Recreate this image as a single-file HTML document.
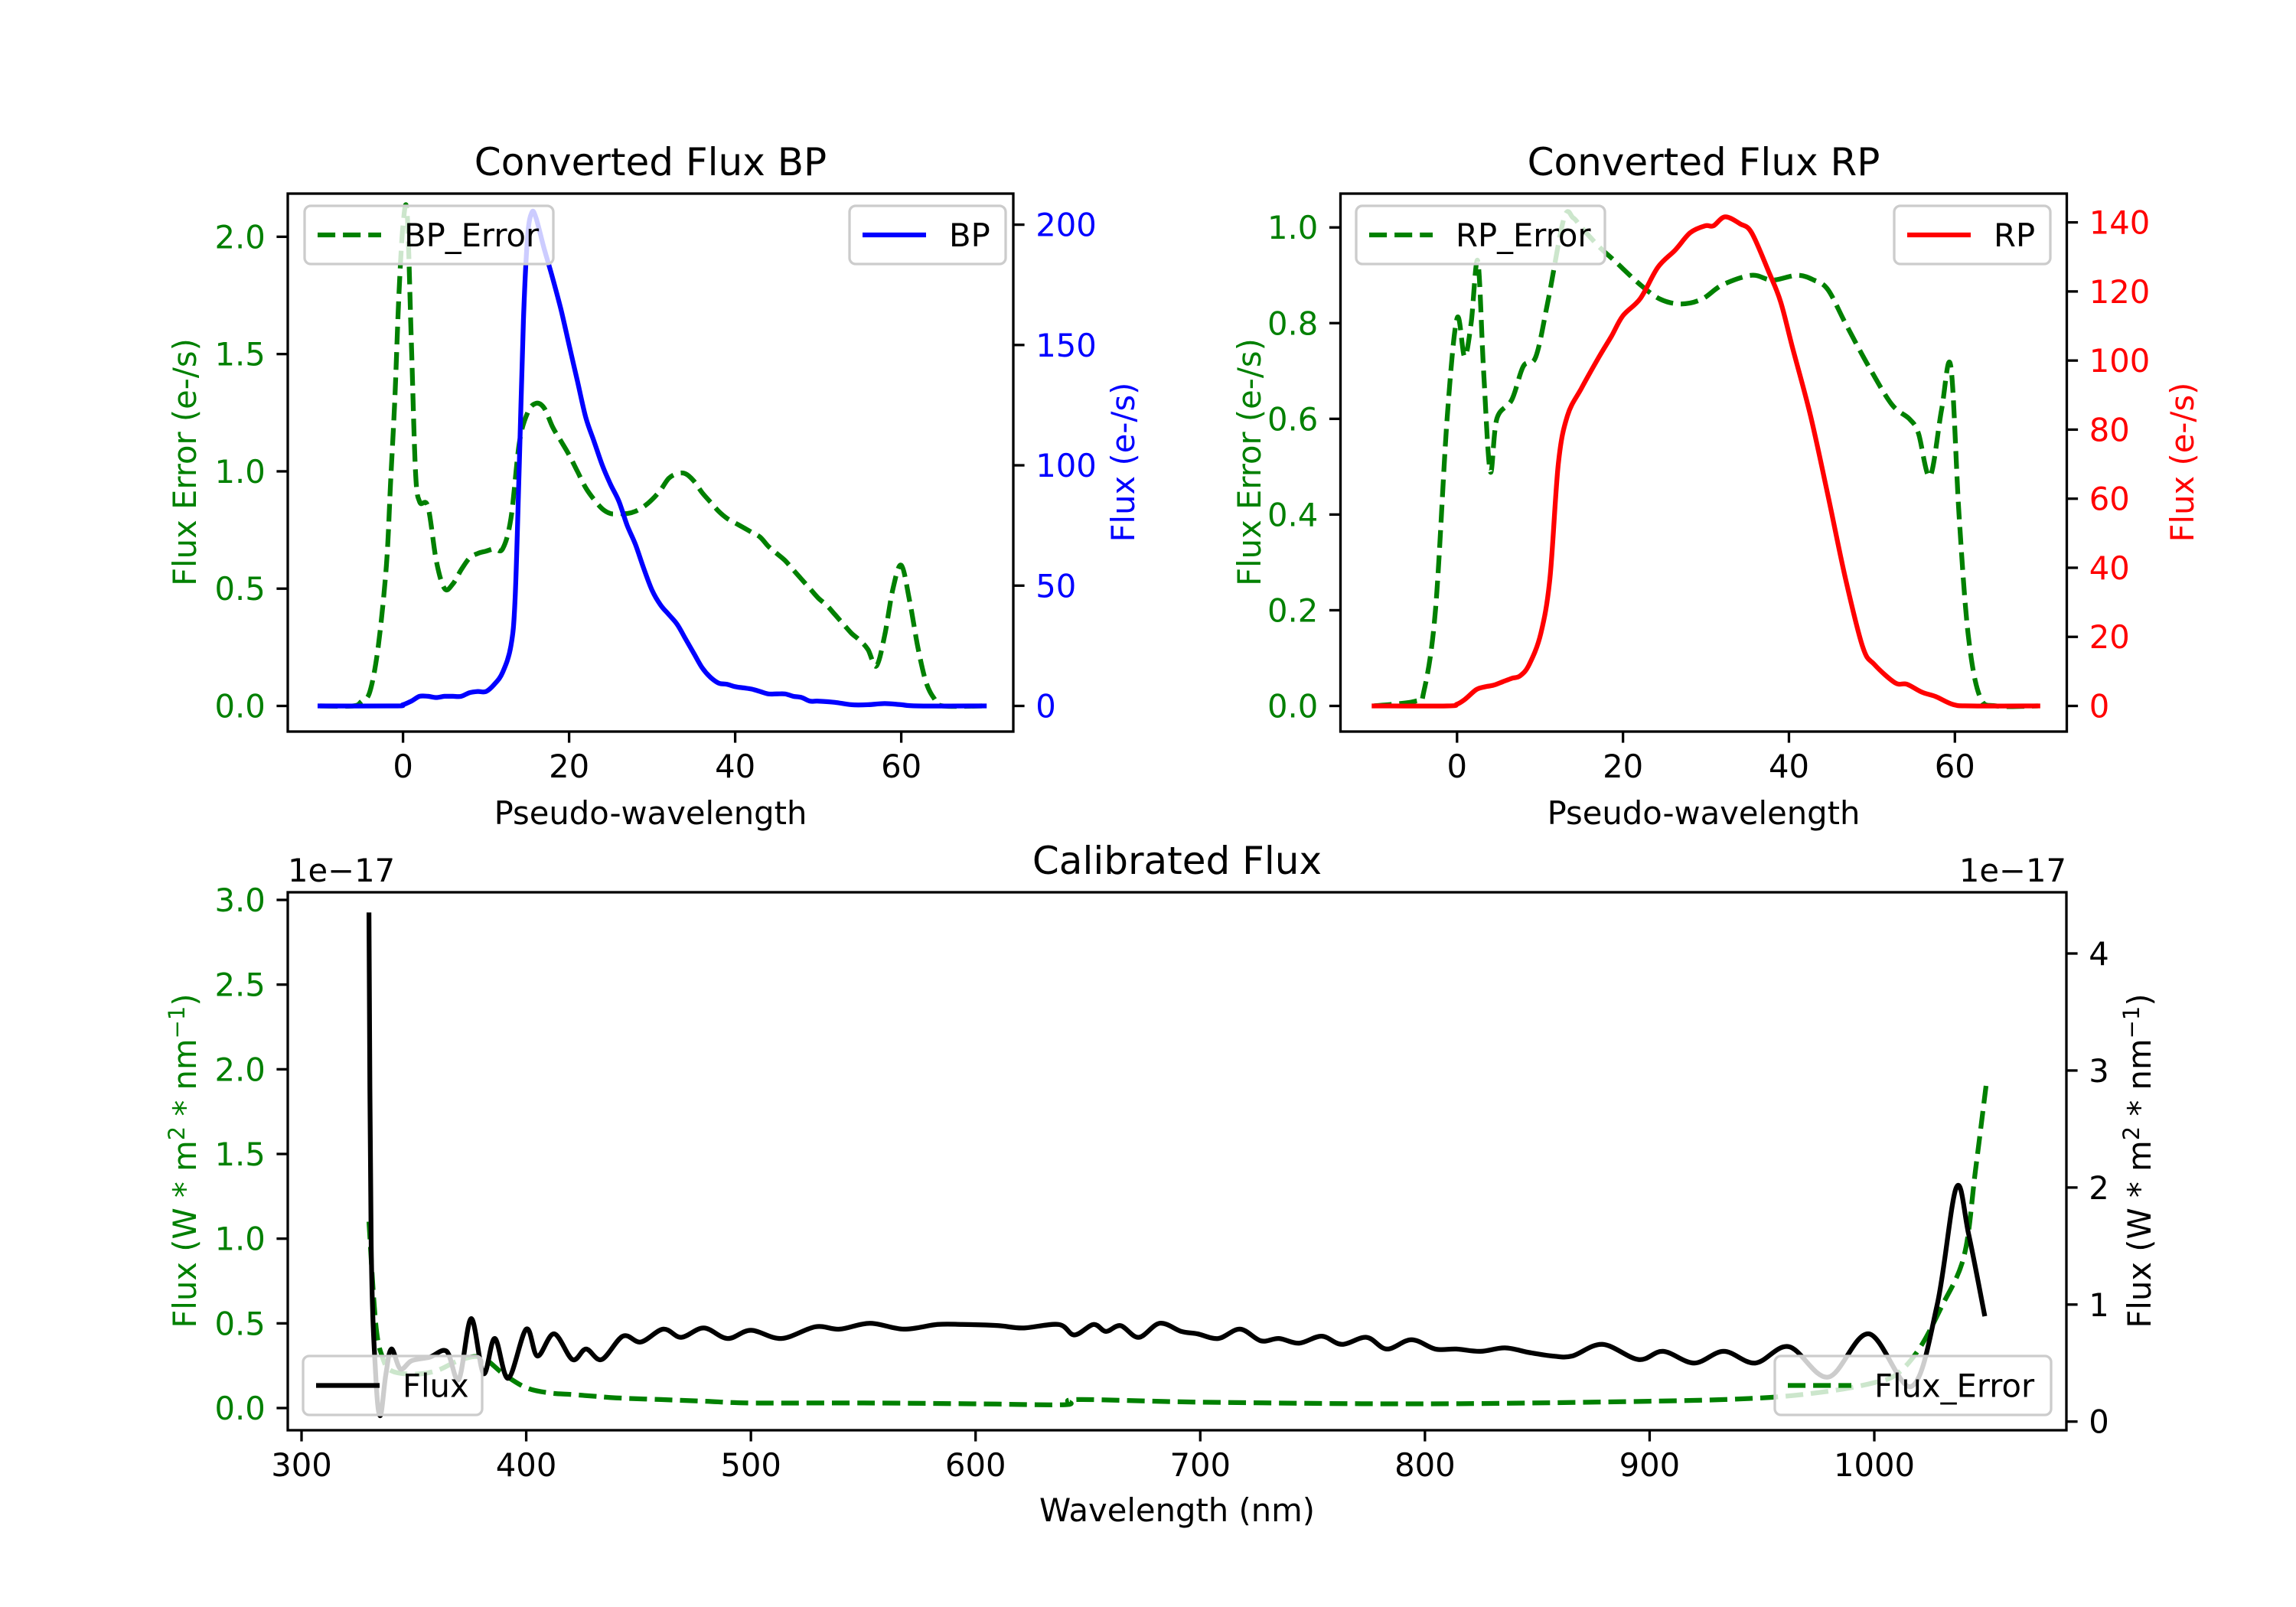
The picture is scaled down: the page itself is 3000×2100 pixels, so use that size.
<!DOCTYPE html>
<html><head><meta charset="utf-8">
<style>
html,body{margin:0;padding:0;background:#fff;}
svg{display:block;font-family:"DejaVu Sans","Liberation Sans",sans-serif;}
</style></head>
<body>
<svg id="fig" width="3000" height="2100" viewBox="0 0 3000 2100" xmlns="http://www.w3.org/2000/svg">
<rect width="3000" height="2100" fill="#fff"/>
</svg>
<script>
// ---- BP panel data ----
const bpErrX = [-10,-6,-5,-4,-3,-2,-1.5,-1,-0.5,0,0.5,1,1.5,2,3,4,5,6,7,8,9,10,11,12,13,14,15,16,17,18,19,20,21,22,23,24,25,26,27,28,29,30,31,32,33,34,35,36,37,38,39,40,41,42,43,44,45,46,47,48,49,50,51,52,53,54,55,56,57,58,59,60,61,62,63,64,65,70];
const bpErrY = [0,0,0.02,0.06,0.25,0.6,0.95,1.3,1.75,2.05,2.1,1.55,1.0,0.87,0.85,0.62,0.5,0.52,0.58,0.63,0.65,0.66,0.67,0.67,0.8,1.12,1.25,1.29,1.27,1.19,1.13,1.07,1.0,0.93,0.88,0.84,0.82,0.82,0.82,0.83,0.85,0.88,0.92,0.97,0.99,0.99,0.96,0.91,0.87,0.83,0.8,0.78,0.76,0.74,0.72,0.68,0.65,0.62,0.58,0.54,0.5,0.46,0.43,0.39,0.35,0.31,0.28,0.24,0.17,0.3,0.5,0.6,0.45,0.25,0.1,0.03,0,0];
const bpX = [-10,-1,0,1,2,3,4,5,6,7,8,9,10,11,12,13,13.5,14,14.5,15,15.5,16,17,18,19,20,21,22,23,24,25,26,27,28,29,30,31,32,33,34,35,36,37,38,39,40,41,42,43,44,45,46,47,48,49,50,52,54,56,58,60,62,70];
const bpY = [0,0,0.5,2,4,4,3.5,4,4,4,5.5,6,6,9,14,25,45,100,160,195,205,203,190,178,165,150,135,120,110,100,92,85,75,67,57,48,42,38,34,28,22,16,12,9.5,9,8,7.5,7,6,5,5,5,4,3.5,2,2,1.5,0.5,0.5,1,0.5,0,0];
const bpXTicks = [0,20,40,60];
const bpLTicks = ["0.0","0.5","1.0","1.5","2.0"];
const bpRTicks = [0,50,100,150,200];
// ---- RP panel data ----
const rpErrX = [-10,-5,-4,-2.6,-1.2,0,0.9,1.7,2.5,3.2,4.0,4.8,6.6,8.0,9.5,11,12.9,14,15,17.1,19,22.1,24.5,27,29.5,32,35.5,38,41,43,44.7,46.8,49.6,52.4,54.5,55.6,57,58.4,59.5,60.5,61.6,63,65,70];
const rpErrY = [0,0.01,0.03,0.2,0.6,0.81,0.73,0.8,0.93,0.7,0.49,0.6,0.64,0.71,0.73,0.85,1.02,1.02,1.0,0.96,0.93,0.88,0.85,0.84,0.85,0.88,0.9,0.89,0.9,0.89,0.87,0.8,0.71,0.63,0.6,0.57,0.48,0.62,0.71,0.4,0.15,0.02,0,0];
const rpX = [-10,-1.2,0,1,2.3,3.3,4.4,5.5,6.6,7.6,8.7,10.1,11.2,12.2,13.3,15,17.1,18.6,20,22.1,24.2,26.3,28.1,29.9,30.9,32.3,34.1,35.5,37.6,39,40.4,42.6,44.7,46.8,48.9,50.3,52.8,54.2,56,57.7,59.8,62,70];
const rpY = [0,0,0.5,2,4.7,5.5,6,7,8,8.7,12,21,37,70,84,92,101,107,113,118,127,132,137,139,139,141.6,139.6,137,125.5,117,104,84,61,37,17,12,6.7,6.3,4,2.7,0.4,0,0];
const rpXTicks = [0,20,40,60];
const rpLTicks = ["0.0","0.2","0.4","0.6","0.8","1.0"];
const rpRTicks = [0,20,40,60,80,100,120,140];
// ---- Calibrated flux data (units 1e-17) ----
const calX = [330,331,333,335,337.5,340,344,349,357,364.6,370,375.5,381,386,392,400,405,412.4,420.6,426.6,433.6,443,451,461,469,479,489.6,500,513.5,528.7,539.5,553,568,583,594,610,621,637,644,652.5,658,664.5,672.6,682,691.6,698.7,708,717.7,727,735,744,754,763,774,783,794,804.6,814,824.7,835.6,846.5,857,865.5,879,895,906,919.8,933,947,962,979.5,997.5,1016.5,1028,1036.5,1042,1049];
const calFlux = [4.33,1.5,0.4,0.05,0.4,0.62,0.45,0.52,0.55,0.6,0.36,0.88,0.41,0.71,0.37,0.79,0.56,0.75,0.53,0.62,0.53,0.73,0.68,0.79,0.72,0.8,0.71,0.78,0.71,0.81,0.79,0.84,0.79,0.83,0.83,0.82,0.8,0.83,0.74,0.83,0.77,0.82,0.72,0.84,0.77,0.75,0.71,0.79,0.69,0.71,0.67,0.73,0.66,0.72,0.62,0.7,0.62,0.62,0.6,0.63,0.59,0.56,0.56,0.66,0.53,0.6,0.5,0.6,0.5,0.64,0.38,0.75,0.3,1.0,2.0,1.6,0.92];
const errX = [330,333,336,340,350,360,370,380,390,400,410,420,430,440,460,480,500,550,600,640,645,700,800,900,950,980,1000,1010,1020,1030,1040,1045,1050];
const errY = [1.1,0.5,0.3,0.22,0.2,0.22,0.28,0.3,0.2,0.12,0.09,0.08,0.07,0.06,0.05,0.04,0.03,0.03,0.025,0.02,0.05,0.035,0.025,0.04,0.06,0.1,0.15,0.2,0.35,0.6,0.9,1.4,1.93];
const calXTicks = [300,400,500,600,700,800,900,1000];
const calLTicks = ["0.0","0.5","1.0","1.5","2.0","2.5","3.0"];
const calRTicks = [0,1,2,3,4];

const NS = "http://www.w3.org/2000/svg";
const fig = document.getElementById('fig');
const FS = 41.7, LW = 6.25, TL = 14.6;
function mk(tag, attrs, parent){
  const e = document.createElementNS(NS, tag);
  for (const k in attrs) e.setAttribute(k, attrs[k]);
  (parent||fig).appendChild(e);
  return e;
}
function lin(d0,p0,d1,p1){ return v => p0 + (v-d0)*(p1-p0)/(d1-d0); }
function txt(s, x, y, anchor, color, size, name, rot){
  const t = mk('text', {x:x, y:y, 'text-anchor':anchor, fill:color, 'font-size':size});
  
  
  if (rot) t.setAttribute('transform', 'rotate(-90 '+x+' '+y+')');
  t.textContent = s;
  return t;
}
function series(xs, ys, X, Y, color, dashed, name, smooth){
  const P = xs.map((v,i)=>[X(v), Y(ys[i])]);
  let d = 'M' + P[0][0].toFixed(1) + ' ' + P[0][1].toFixed(1);
  for (let i=1;i<P.length;i++){
    if (smooth){
      const p0 = P[Math.max(i-2,0)], p1 = P[i-1], p2 = P[i], p3 = P[Math.min(i+1,P.length-1)];
      const c1x = p1[0]+(p2[0]-p0[0])/6, c1y = p1[1]+(p2[1]-p0[1])/6;
      const c2x = p2[0]-(p3[0]-p1[0])/6, c2y = p2[1]-(p3[1]-p1[1])/6;
      d += 'C'+c1x.toFixed(1)+' '+c1y.toFixed(1)+' '+c2x.toFixed(1)+' '+c2y.toFixed(1)+' '+p2[0].toFixed(1)+' '+p2[1].toFixed(1);
    } else d += 'L' + P[i][0].toFixed(1) + ' ' + P[i][1].toFixed(1);
  }
  const p = mk('path', {d:d, fill:'none', stroke:color, 'stroke-width':LW, 'stroke-linejoin':'round', 'stroke-linecap': dashed?'butt':'square'});
  if (dashed) p.setAttribute('stroke-dasharray', '23.1 10');
  
  
  return p;
}
function frame(ax){
  const r = mk('rect', {x:ax.l, y:ax.t, width:ax.r-ax.l, height:ax.b-ax.t, fill:'none', stroke:'#000', 'stroke-width':3.3});
  
  
}
function xticks(ax, X, vals){
  vals.forEach(v=>{
    const x = X(v);
    const l = mk('line', {x1:x, x2:x, y1:ax.b, y2:ax.b+TL, stroke:'#000', 'stroke-width':3.3});
    
    
    txt(String(v), x, ax.b+TL+14.6+31, 'middle', '#000', FS, ax.name+'-x-tick-label');
  });
}
function yticks(ax, Y, labels, side, color){
  labels.forEach(s=>{
    const y = Y(parseFloat(s));
    const x0 = side==='l' ? ax.l : ax.r;
    const x1 = side==='l' ? ax.l-TL : ax.r+TL;
    const l = mk('line', {x1:x0, x2:x1, y1:y, y2:y, stroke:'#000', 'stroke-width':3.3});
    
    
    const tx = side==='l' ? ax.l-TL-14.6 : ax.r+TL+14.6;
    txt(String(s), tx, y+15, side==='l'?'end':'start', color, FS, ax.name+'-y-tick-label-'+side);
  });
}
function legend(x, y, w, h, color, dashed, label, name){
  const g = mk('g', {});
  
  
  mk('rect', {x:x, y:y, width:w, height:h, rx:8, fill:'rgba(255,255,255,0.8)', stroke:'#cccccc', 'stroke-width':3.3}, g);
  const ly = y + h/2;
  const ln = mk('line', {x1:x+17, x2:x+100, y1:ly, y2:ly, stroke:color, 'stroke-width':LW}, g);
  if (dashed) ln.setAttribute('stroke-dasharray', '23.1 10');
  const t = mk('text', {x:x+130, y:ly+15, fill:'#000', 'font-size':FS}, g);
  t.textContent = label;
}

// ===== BP =====
const bp = {name:'bp', l:376, r:1324, t:253, b:956};
const bpXf = lin(0,526.6,60,1177.6), bpYL = lin(0,922.5,2,309.4), bpYR = lin(0,922.5,200,293.6);
txt('Converted Flux BP', 850, 229, 'middle', '#000', 50, 'bp-title');
series(bpErrX, bpErrY, bpXf, bpYL, '#008000', true, 'bp-error-line', true);
series(bpX, bpY, bpXf, bpYR, '#0000ff', false, 'bp-flux-line', true);
frame(bp);
xticks(bp, bpXf, bpXTicks);
yticks(bp, bpYL, bpLTicks, 'l', '#008000');
yticks(bp, bpYR, bpRTicks.map(String), 'r', '#0000ff');
txt('Pseudo-wavelength', 850, 1077, 'middle', '#000', FS, 'bp-x-axis-title');
txt('Flux Error (e-/s)', 256, 604, 'middle', '#008000', FS, 'bp-left-axis-title', true);
txt('Flux (e-/s)', 1482, 604, 'middle', '#0000ff', FS, 'bp-right-axis-title', true);
legend(398, 269, 325, 76, '#008000', true, 'BP_Error', 'bp-error-legend');
legend(1110, 269, 204, 76, '#0000ff', false, 'BP', 'bp-legend');

// ===== RP =====
const rp = {name:'rp', l:1751.5, r:2700.5, t:253, b:956};
const rpXf = lin(0,1903.8,60,2554.3), rpYL = lin(0,922.5,1,297.2), rpYR = lin(0,922.5,140,290.6);
txt('Converted Flux RP', 2226, 229, 'middle', '#000', 50, 'rp-title');
series(rpErrX, rpErrY, rpXf, rpYL, '#008000', true, 'rp-error-line', true);
series(rpX, rpY, rpXf, rpYR, '#ff0000', false, 'rp-flux-line', true);
frame(rp);
xticks(rp, rpXf, rpXTicks);
yticks(rp, rpYL, rpLTicks, 'l', '#008000');
yticks(rp, rpYR, rpRTicks.map(String), 'r', '#ff0000');
txt('Pseudo-wavelength', 2226, 1077, 'middle', '#000', FS, 'rp-x-axis-title');
txt('Flux Error (e-/s)', 1647, 604, 'middle', '#008000', FS, 'rp-left-axis-title', true);
txt('Flux (e-/s)', 2866, 604, 'middle', '#ff0000', FS, 'rp-right-axis-title', true);
legend(1772, 269, 325, 76, '#008000', true, 'RP_Error', 'rp-error-legend');
legend(2475, 269, 204, 76, '#ff0000', false, 'RP', 'rp-legend');

// ===== Calibrated =====
const cal = {name:'cal', l:376, r:2700, t:1166, b:1869};
const calXf = lin(300,394,1000,2449), calYL = lin(0,1840,3,1176), calYR = lin(0,1857.7,4,1246);
txt('Calibrated Flux', 1538, 1142, 'middle', '#000', 50, 'cal-title');
series(errX, errY, calXf, calYL, '#008000', true, 'cal-error-line', true);
series(calX, calFlux, calXf, calYR, '#000000', false, 'cal-flux-line', true);
frame(cal);
xticks(cal, calXf, calXTicks);
yticks(cal, calYL, calLTicks, 'l', '#008000');
yticks(cal, calYR, calRTicks.map(String), 'r', '#000');
txt('1e\u221217', 376, 1152, 'start', '#000', FS, 'cal-left-offset-text');
txt('1e\u221217', 2700, 1152, 'end', '#000', FS, 'cal-right-offset-text');
txt('Wavelength (nm)', 1538, 1988, 'middle', '#000', FS, 'cal-x-axis-title');
function unitLabel(x, y, color, name){
  const t = mk('text', {x:x, y:y, 'text-anchor':'middle', fill:color, 'font-size':FS, transform:'rotate(-90 '+x+' '+y+')'});
  
  
  t.appendChild(document.createTextNode('Flux (W * m'));
  const s1 = mk('tspan', {'font-size':29, dy:-15}, t); s1.textContent = '2';
  const m = mk('tspan', {dy:15}, t); m.textContent = ' * nm';
  const s2 = mk('tspan', {'font-size':29, dy:-15}, t); s2.textContent = '\u22121';
  const e = mk('tspan', {dy:15}, t); e.textContent = ')';
}
unitLabel(256, 1517, '#008000', 'cal-left-axis-title');
unitLabel(2810, 1517, '#000', 'cal-right-axis-title');
legend(396, 1772, 234, 77, '#000', false, 'Flux', 'cal-flux-legend');
legend(2319, 1772, 361, 77, '#008000', true, 'Flux_Error', 'cal-error-legend');
</script>
</body></html>
